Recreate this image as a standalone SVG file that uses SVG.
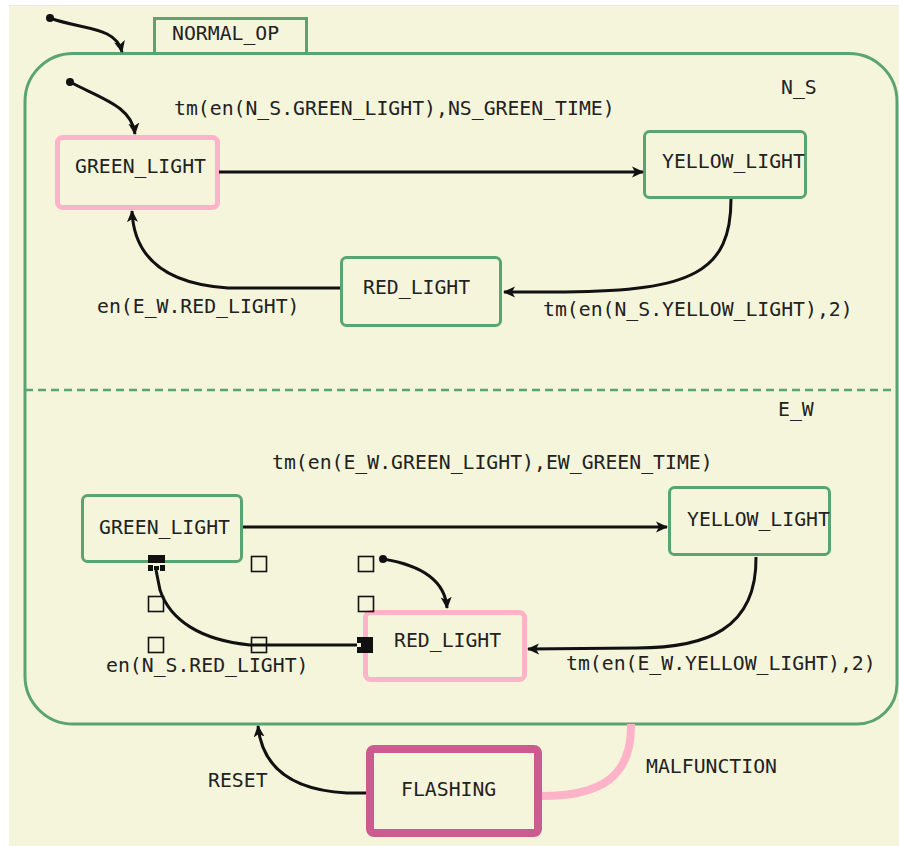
<svg xmlns="http://www.w3.org/2000/svg" width="899" height="846" viewBox="0 0 899 846">
<style>
  text { font-family: "DejaVu Sans Mono", "Liberation Mono", monospace; font-size: 19.8px; fill: #222; }
  .st { fill: none; stroke: #5aa474; stroke-width: 3; }
  .sel { fill: none; stroke: #ffb3c8; stroke-width: 5; }
  .cn { fill: none; stroke: #111; stroke-width: 3; }
  .hd { fill: none; stroke: #111; stroke-width: 1.6; }
</style>
<defs>
  <marker id="ah" markerUnits="userSpaceOnUse" markerWidth="14" markerHeight="14" refX="11" refY="6" orient="auto">
    <path d="M0,0.5 L12,6 L0,11.5 L3,6 Z" fill="#111"/>
  </marker>
</defs>
<rect x="0" y="0" width="899" height="846" fill="#ffffff"/>
<rect x="9" y="6" width="890" height="840" fill="#f5f5dc"/>
<line x1="9" y1="5.5" x2="899" y2="5.5" stroke="#fbe3e3" stroke-width="1"/>

<g id="NORMAL_OP">
  <path class="st" d="M73,53.5 H849 A48,48 0 0 1 897,101.5 V684 A40,40 0 0 1 857,724 H73 A48,48 0 0 1 25,676 V101.5 A48,48 0 0 1 73,53.5 Z"/>
  <rect class="st" x="154.5" y="18.5" width="152" height="35"/>
  <text x="172" y="40">NORMAL_OP</text>
  <line x1="25" y1="390" x2="897" y2="390" stroke="#5aa474" stroke-width="2.5" stroke-dasharray="8,5"/>
</g>

<g id="N_S">
  <text x="781" y="94">N_S</text>
</g>
<g id="N_S.GREEN_LIGHT">
  <rect class="sel" x="57.5" y="137.5" width="160" height="70" rx="5"/>
  <text x="75" y="173">GREEN_LIGHT</text>
</g>
<g id="N_S.YELLOW_LIGHT">
  <rect class="st" x="644.5" y="131.5" width="161" height="66" rx="5"/>
  <text x="662" y="168">YELLOW_LIGHT</text>
</g>
<g id="N_S.RED_LIGHT">
  <rect class="st" x="341.5" y="257.5" width="159" height="68" rx="5"/>
  <text x="363" y="294">RED_LIGHT</text>
</g>

<g id="E_W">
  <text x="778" y="416">E_W</text>
</g>
<g id="E_W.GREEN_LIGHT">
  <rect class="st" x="82.5" y="495.5" width="159" height="66" rx="5"/>
  <text x="99" y="534">GREEN_LIGHT</text>
</g>
<g id="E_W.YELLOW_LIGHT">
  <rect class="st" x="669.5" y="487.5" width="160" height="67" rx="5"/>
  <text x="687" y="526">YELLOW_LIGHT</text>
</g>
<g id="E_W.RED_LIGHT">
  <rect class="sel" x="365.5" y="612.5" width="159" height="67" rx="5"/>
  <text x="394" y="647">RED_LIGHT</text>
</g>

<g id="FLASHING">
  <rect x="370" y="749" width="168" height="84" rx="4" fill="none" stroke="#cc5c8f" stroke-width="8"/>
  <text x="401" y="796">FLASHING</text>
</g>

<g id="connectors">
  <circle cx="50" cy="18" r="4" fill="#111"/>
  <path class="cn" d="M50,18 C82,30 116,26 122,52" marker-end="url(#ah)"/>
  <circle cx="70" cy="82" r="4" fill="#111"/>
  <path class="cn" d="M70,82 C100,98 132,106 135,134" marker-end="url(#ah)"/>

  <path class="cn" d="M219,172 H643" marker-end="url(#ah)"/>
  <text x="174" y="115">tm(en(N_S.GREEN_LIGHT),NS_GREEN_TIME)</text>

  <path class="cn" d="M731,199 C731,272 692,291 565,292 L504,292" marker-end="url(#ah)"/>
  <text x="543" y="316">tm(en(N_S.YELLOW_LIGHT),2)</text>

  <path class="cn" d="M340,288 L228,288 C168,284 134,260 132,211" marker-end="url(#ah)"/>
  <text x="97" y="313">en(E_W.RED_LIGHT)</text>

  <path class="cn" d="M243,527 H667" marker-end="url(#ah)"/>
  <text x="272" y="469">tm(en(E_W.GREEN_LIGHT),EW_GREEN_TIME)</text>

  <path class="cn" d="M756,557 C757,630 705,648 637,648 L528,649" marker-end="url(#ah)"/>
  <text x="566" y="670">tm(en(E_W.YELLOW_LIGHT),2)</text>

  <circle cx="383" cy="559" r="4" fill="#111"/>
  <path class="cn" d="M383,559 C420,565 445,580 447,608" marker-end="url(#ah)"/>

  <rect class="hd" x="251.5" y="556.5" width="15" height="15"/>
  <rect class="hd" x="358.5" y="556.5" width="15" height="15"/>
  <rect class="hd" x="148.5" y="596.5" width="15" height="15"/>
  <rect class="hd" x="358.5" y="596.5" width="15" height="15"/>
  <rect class="hd" x="148.5" y="637.5" width="15" height="15"/>
  <rect class="hd" x="251.5" y="637.5" width="15" height="15"/>
  <path class="cn" d="M360,645 L250,645 C200,640 170,620 160,590 L156,570"/>
  <rect x="148" y="555" width="17" height="8" fill="#111"/>
  <rect x="148" y="565" width="5" height="6" fill="#111"/>
  <rect x="160" y="565" width="5" height="6" fill="#111"/>
  <rect x="154" y="566" width="5" height="4" fill="#111"/>
  <rect x="357" y="637" width="16" height="16" fill="#111"/>
  <rect x="357" y="643" width="4" height="4" fill="#f5f5dc"/>
  <text x="106" y="672">en(N_S.RED_LIGHT)</text>

  <path class="cn" d="M366,793 L347,793 C290,790 262,766 258,726" marker-end="url(#ah)"/>
  <text x="208" y="787">RESET</text>

  <path d="M631,724 C632,776 602,796 542,796" fill="none" stroke="#ffb3c8" stroke-width="8"/>
  <text x="646" y="773">MALFUNCTION</text>
</g>
</svg>
